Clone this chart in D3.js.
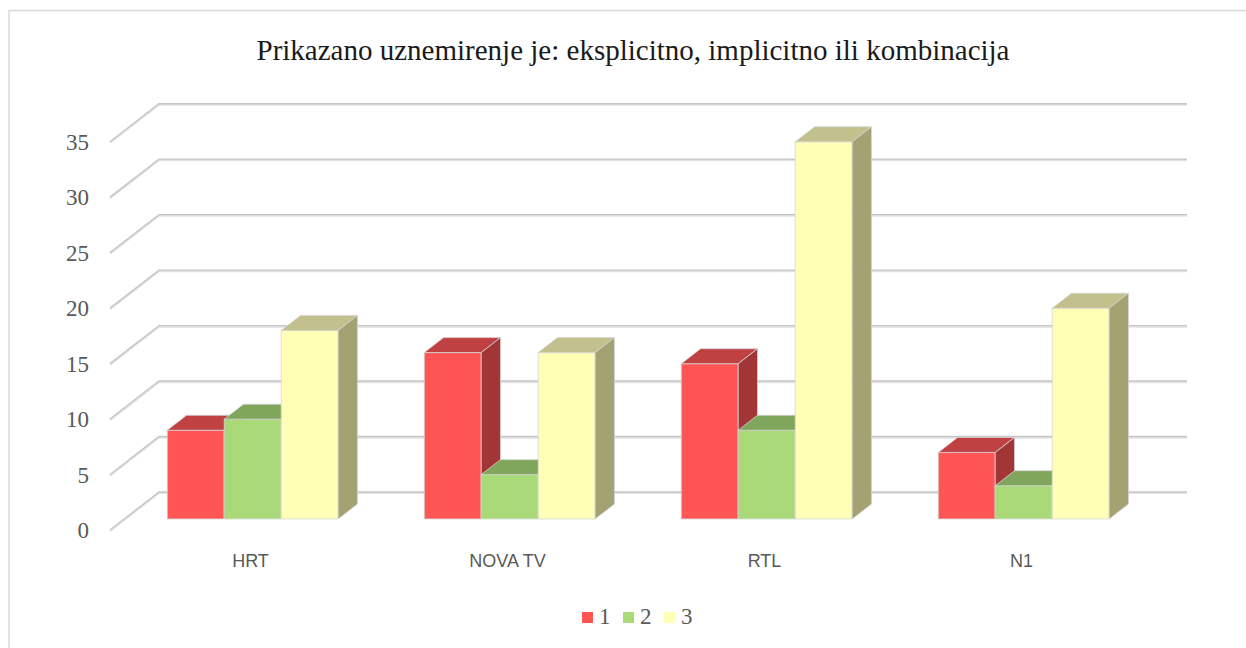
<!DOCTYPE html>
<html>
<head>
<meta charset="utf-8">
<script src="https://cdnjs.cloudflare.com/ajax/libs/d3/7.8.5/d3.min.js"></script>
<style>
  body { margin: 0; background: #fff; }
  svg { display: block; }
</style>
</head>
<body>
<div id="chart"></div>
<script>
const title = 'Prikazano uznemirenje je: eksplicitno, implicitno ili kombinacija';
const categories = ['HRT', 'NOVA TV', 'RTL', 'N1'];
const seriesNames = ['1', '2', '3'];
const series1 = [8, 15, 14, 6];
const series2 = [9, 4, 8, 3];
const series3 = [17, 15, 34, 19];
const yTicks = [0, 5, 10, 15, 20, 25, 30, 35];

const W = 1246, H = 648;
const colors = [
  { front: '#ff5555', top: '#c04141', side: '#a23636' },
  { front: '#aad978', top: '#7fa65a', side: '#6c8c4c' },
  { front: '#ffffb5', top: '#c2c08d', side: '#a4a173' }
];

const svg = d3.select('#chart').append('svg')
  .attr('width', W)
  .attr('height', H);

// chart border (right/bottom edges fall outside the picture)
svg.append('rect')
  .attr('x', 9).attr('y', 10.5)
  .attr('width', W).attr('height', H)
  .attr('fill', 'none')
  .attr('stroke', '#d9d9d9')
  .attr('stroke-width', 1.5);

svg.append('text')
  .attr('x', 633).attr('y', 60)
  .attr('text-anchor', 'middle')
  .style('font-family', '"Liberation Serif", "Times New Roman", serif')
  .style('font-size', '29px')
  .style('fill', '#1a1a1a')
  .text(title);

// oblique 3d: depth z (0 = front of floor, 1 = back wall)
const depth = { dx: 49, dy: -38 };
const x = d3.scaleBand().domain(categories).range([110, 1138])
  .paddingInner(0.335).paddingOuter(0.1675);
const x1 = d3.scaleBand().domain(seriesNames).range([0, x.bandwidth()]);
const y = d3.scaleLinear().domain([0, 35]).range([530, 141.7]);
const proj = (px, v, z) => [px + z * depth.dx, y(v) + z * depth.dy];

// gridlines: back wall + left wall diagonal
const grid = svg.append('g');
yTicks.forEach((t) => {
  const pts = [proj(110, t, 0), proj(110, t, 1), proj(1138, t, 1)];
  grid.append('polyline')
    .attr('points', pts.map((p) => [p[0], p[1] + 1].join(',')).join(' '))
    .attr('fill', 'none')
    .attr('stroke', '#e3e3e3')
    .attr('stroke-width', 2.2);
  grid.append('polyline')
    .attr('points', pts.map((p) => p.join(',')).join(' '))
    .attr('fill', 'none')
    .attr('stroke', '#c6c6c6')
    .attr('stroke-width', 1.4);
});

// y tick labels
svg.append('g').selectAll('text')
  .data(yTicks)
  .enter()
  .append('text')
  .attr('x', 89)
  .attr('y', (d) => y(d) + 8)
  .attr('text-anchor', 'end')
  .style('font-family', '"Liberation Serif", "Times New Roman", serif')
  .style('font-size', '23px')
  .style('fill', '#595959')
  .text((d) => d);

// bars
const z0 = 0.29, z1 = 0.684;
const rows = [];
categories.forEach((c, i) => {
  [series1, series2, series3].forEach((s, j) => {
    rows.push({ cat: c, name: seriesNames[j], value: s[i], j: j });
  });
});

const poly = (pts) => pts.map((p) => p.join(',')).join(' ');
const bars = svg.append('g').selectAll('g')
  .data(rows)
  .enter()
  .append('g');

bars.each(function (d) {
  const g = d3.select(this);
  const xl = x(d.cat) + x1(d.name);
  const xr = xl + x1.bandwidth();
  const c = colors[d.j];
  const edge = { stroke: '#d6d6d6', width: 0.8 };
  // front
  g.append('polygon')
    .attr('points', poly([proj(xl, 0, z0), proj(xr, 0, z0), proj(xr, d.value, z0), proj(xl, d.value, z0)]))
    .attr('fill', c.front)
    .attr('stroke', edge.stroke).attr('stroke-width', edge.width);
  // top
  g.append('polygon')
    .attr('points', poly([proj(xl, d.value, z0), proj(xr, d.value, z0), proj(xr, d.value, z1), proj(xl, d.value, z1)]))
    .attr('fill', c.top)
    .attr('stroke', edge.stroke).attr('stroke-width', edge.width);
  // right side
  g.append('polygon')
    .attr('points', poly([proj(xr, 0, z0), proj(xr, 0, z1), proj(xr, d.value, z1), proj(xr, d.value, z0)]))
    .attr('fill', c.side)
    .attr('stroke', edge.stroke).attr('stroke-width', edge.width);
});

// category labels
svg.append('g').selectAll('text')
  .data(categories)
  .enter()
  .append('text')
  .attr('x', (d) => x(d) + x.bandwidth() / 2 + 12)
  .attr('y', 567)
  .attr('text-anchor', 'middle')
  .style('font-family', '"Liberation Sans", Arial, sans-serif')
  .style('font-size', '18px')
  .style('fill', '#595959')
  .text((d) => d);

// legend
const legendX = [582, 623, 664];
const legend = svg.append('g').selectAll('g')
  .data(seriesNames)
  .enter()
  .append('g')
  .attr('transform', (d, i) => `translate(${legendX[i]},612)`);
legend.append('rect')
  .attr('width', 11).attr('height', 11)
  .attr('fill', (d, i) => colors[i].front);
legend.append('text')
  .attr('x', 17).attr('y', 12)
  .style('font-family', '"Liberation Serif", "Times New Roman", serif')
  .style('font-size', '23px')
  .style('fill', '#595959')
  .text((d) => d);
</script>
</body>
</html>
